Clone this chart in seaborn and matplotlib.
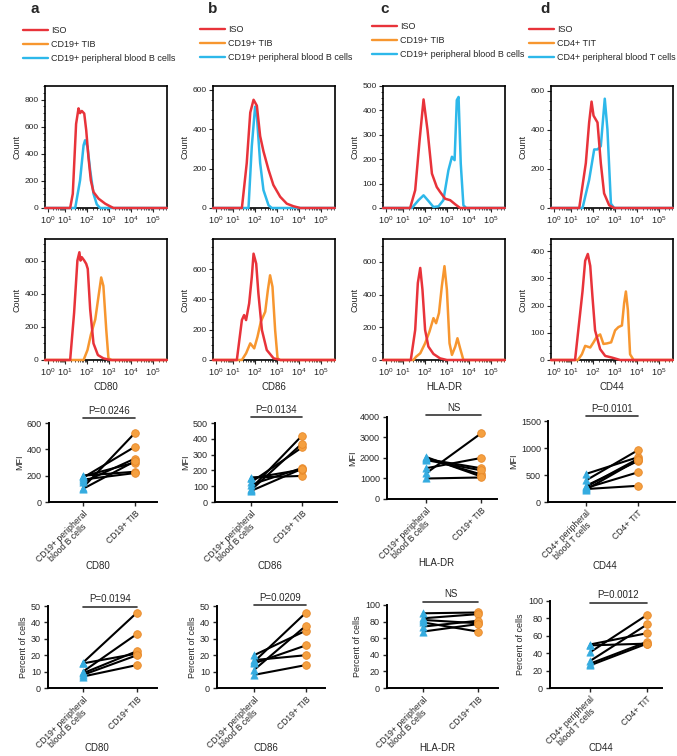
import numpy as np
import pandas as pd
import matplotlib
matplotlib.use("Agg")
import matplotlib.pyplot as plt
from matplotlib.lines import Line2D
from matplotlib.ticker import FixedLocator, AutoMinorLocator
import seaborn as sns

# --- histogram traces: (log10 intensity, count) ---
cd80_iso_1 = [(-0.19, 0), (1.25, 0), (1.37, 105), (1.52, 620), (1.63, 735), (1.70, 700), (1.78, 716),
              (1.89, 697), (1.98, 574), (2.08, 377), (2.19, 204), (2.31, 118), (2.54, 69), (2.84, 32),
              (3.07, 12), (3.22, 0), (5.64, 0)]
cd80_pb = [(-0.19, 0), (1.48, 0), (1.70, 204), (1.86, 463), (1.93, 500), (2.04, 450), (2.16, 278),
           (2.31, 106), (2.46, 27), (2.61, 0), (5.64, 0)]
cd86_iso_1 = [(-0.19, 0), (1.42, 0), (1.64, 228), (1.80, 485), (1.95, 550), (2.10, 520), (2.25, 365),
              (2.40, 288), (2.63, 194), (2.85, 117), (3.16, 57), (3.46, 22), (3.76, 9), (4.07, 0), (5.64, 0)]
cd86_pb = [(-0.19, 0), (1.72, 0), (1.87, 314), (2.02, 515), (2.10, 468), (2.25, 228), (2.40, 91),
           (2.63, 14), (2.78, 0), (5.64, 0)]
hla_iso_1 = [(-0.19, 0), (1.34, 0), (1.57, 73), (1.77, 278), (1.95, 445), (2.13, 319), (2.33, 141),
             (2.55, 86), (2.70, 66), (2.93, 38), (3.16, 32), (3.39, 15), (3.61, 0), (5.64, 0)]
hla_pb = [(-0.19, 0), (1.42, 0), (1.72, 32), (1.95, 52), (2.17, 29), (2.40, 4), (2.63, 7), (2.85, 32),
          (3.08, 155), (3.24, 210), (3.36, 196), (3.46, 442), (3.54, 455), (3.64, 182), (3.76, 11),
          (3.89, 0), (5.64, 0)]
cd44_iso_1 = [(-0.19, 0), (1.39, 0), (1.69, 230), (1.84, 438), (1.95, 545), (2.04, 473), (2.22, 438),
              (2.37, 230), (2.52, 75), (2.75, 14), (2.98, 0), (5.64, 0)]
cd44_pb = [(-0.19, 0), (1.54, 0), (1.84, 144), (2.07, 300), (2.22, 300), (2.37, 317), (2.55, 560),
           (2.67, 404), (2.83, 22), (2.98, 0), (5.64, 0)]

cd80_iso_2 = [(-0.19, 0), (1.25, 0), (1.43, 285), (1.58, 600), (1.67, 650), (1.72, 600), (1.78, 620),
              (1.89, 600), (1.98, 580), (2.05, 550), (2.16, 305), (2.31, 100), (2.51, 30), (2.76, 10),
              (3.07, 0), (5.64, 0)]
cd80_tum = [(-0.19, 0), (1.86, 0), (2.04, 61), (2.19, 152), (2.39, 244), (2.54, 386), (2.66, 498),
            (2.76, 447), (2.89, 183), (2.99, 10), (3.14, 0), (5.64, 0)]
cd86_iso_2 = [(-0.19, 0), (1.19, 0), (1.42, 264), (1.52, 297), (1.61, 264), (1.75, 374), (1.87, 549),
              (1.95, 703), (2.07, 637), (2.17, 440), (2.33, 198), (2.55, 66), (2.86, 11), (3.16, 0), (5.64, 0)]
cd86_tum = [(-0.19, 0), (1.42, 0), (1.61, 44), (1.80, 110), (1.98, 77), (2.13, 154), (2.28, 253),
            (2.48, 319), (2.60, 462), (2.70, 560), (2.81, 484), (2.93, 198), (3.04, 11), (3.16, 0), (5.64, 0)]
hla_iso_2 = [(-0.19, 0), (1.37, 0), (1.57, 184), (1.69, 471), (1.80, 563), (1.90, 430), (2.02, 184),
             (2.17, 82), (2.40, 37), (2.70, 10), (3.01, 0), (5.64, 0)]
hla_tum = [(-0.19, 0), (1.49, 0), (1.61, 20), (1.80, 41), (2.02, 102), (2.22, 174), (2.40, 256),
           (2.52, 225), (2.65, 287), (2.78, 451), (2.90, 574), (3.01, 430), (3.13, 102), (3.24, 31),
           (3.39, 82), (3.49, 133), (3.61, 72), (3.76, 0), (5.64, 0)]
cd44_iso_2 = [(-0.19, 0), (1.20, 0), (1.43, 171), (1.54, 253), (1.66, 365), (1.78, 390), (1.89, 346),
              (1.99, 234), (2.11, 109), (2.34, 40), (2.57, 15), (2.87, 9), (3.25, 0), (5.64, 0)]
cd44_tum = [(-0.19, 0), (1.33, 0), (1.51, 21), (1.66, 52), (1.89, 46), (2.04, 65), (2.19, 86),
            (2.34, 94), (2.49, 59), (2.65, 61), (2.84, 65), (3.02, 109), (3.17, 121), (3.33, 127),
            (3.43, 209), (3.51, 252), (3.60, 184), (3.70, 21), (3.86, 0), (5.64, 0)]

# --- paired values per donor ---
cd80_mfi_pb = [200, 195, 185, 170, 150, 110, 100]
cd80_mfi_tib = [230, 300, 420, 220, 330, 525, 310]
cd86_mfi_pb = [155, 150, 125, 110, 85, 75, 70]
cd86_mfi_tib = [165, 205, 345, 215, 420, 370, 210]
hla_mfi_pb = [2050, 2000, 1950, 1900, 1500, 1250, 1000]
hla_mfi_tib = [1100, 1200, 1500, 1400, 2000, 3200, 1050]
cd44_mfi_pb = [520, 400, 300, 280, 260, 240, 230]
cd44_mfi_tit = [830, 960, 760, 800, 550, 300, 780]

cd80_pct_pb = [15.5, 15, 10, 9, 8, 7]
cd80_pct_tib = [46, 21, 33, 22.5, 20, 14]
cd86_pct_pb = [20, 17, 16, 15, 11, 8]
cd86_pct_tib = [35, 20, 46, 26, 38, 14]
hla_pct_pb = [90, 84, 82, 79, 74, 68]
hla_pct_tib = [91, 89, 78, 68, 81, 77]
cd44_pct_pb = [50, 49, 41, 31, 28, 26]
cd44_pct_tit = [63, 51, 84, 73, 53, 51]

markers = ["CD80", "CD86", "HLA-DR", "CD44"]
mfi_p = ["P=0.0246", "P=0.0134", "NS", "P=0.0101"]
pct_p = ["P=0.0194", "P=0.0209", "NS", "P=0.0012"]
b_groups = ["CD19+ peripheral\nblood B cells", "CD19+ TIB"]
t_groups = ["CD4+ peripheral\nblood T cells", "CD4+ TIT"]
b_legend = ["ISO", "CD19+ TIB", "CD19+ peripheral blood B cells"]
t_legend = ["ISO", "CD4+ TIT", "CD4+ peripheral blood T cells"]

RED, ORANGE, BLUE = "#E8333A", "#F7962F", "#2DB8EA"
DOT_BLUE, DOT_ORANGE = "#35ACE0", "#F5A040"

sns.set_theme(style="ticks")
plt.rcParams["font.family"] = ["Liberation Sans", "DejaVu Sans"]
plt.rcParams["mathtext.fontset"] = "custom"
plt.rcParams["mathtext.rm"] = "Liberation Sans"
plt.rcParams["mathtext.it"] = "Liberation Sans:italic"
plt.rcParams["mathtext.bf"] = "Liberation Sans:bold"

W, H = 677, 756
fig = plt.figure(figsize=(W / 100, H / 100), dpi=100)


def px_axes(l, t, r, b):
    return fig.add_axes([l / W, 1 - b / H, (r - l) / W, (b - t) / H])


# flow cytometry display: first decade is squeezed
def fwd(x):
    x = np.asarray(x, float)
    return np.where(x < 1, 0.75 * x, x - 0.25)


def inv(u):
    u = np.asarray(u, float)
    return np.where(u < 0.75, u / 0.75, u + 0.25)


minor_x = [d + np.log10(k) for d in range(6) for k in range(2, 10) if d + np.log10(k) < 5.65]


def draw_hist(ax, traces, ymax, yticks, xlabel=None):
    for trace, color in traces:
        df = pd.DataFrame(trace, columns=["decade", "count"])
        sns.lineplot(data=df, x="decade", y="count", ax=ax, color=color, lw=1.8,
                     sort=False, estimator=None, clip_on=False, zorder=3)
    ax.set_xscale("function", functions=(fwd, inv))
    ax.set_xlim(-0.19, 5.65)
    ax.set_ylim(0, ymax)
    ax.set_xticks(range(6))
    ax.set_xticklabels([f"$10^{{{d}}}$" for d in range(6)], fontsize=6.5)
    ax.xaxis.set_minor_locator(FixedLocator(minor_x))
    ax.set_yticks(yticks)
    ax.set_yticklabels([str(v) for v in yticks], fontsize=6)
    ax.yaxis.set_minor_locator(AutoMinorLocator(4))
    ax.tick_params(which="major", length=3, width=0.8, pad=1.5)
    ax.tick_params(which="minor", length=1.5, width=0.6)
    for s in ax.spines.values():
        s.set_linewidth(1.2)
        s.set_color("black")
    ax.set_ylabel("Count", fontsize=6.5, labelpad=2)
    ax.set_xlabel(xlabel if xlabel else "", fontsize=7, labelpad=3)


def draw_pairs(ax, pb, tum, yticks, ylabel, ptext, bar_y, groups, xlabel, cat_px, box_px, lab_off):
    n = len(pb)
    df = pd.DataFrame({"donor": list(range(n)) * 2, "pos": [0] * n + [1] * n,
                       "value": list(pb) + list(tum)})
    sns.lineplot(data=df, x="pos", y="value", units="donor", estimator=None,
                 color="black", lw=1.5, ax=ax, zorder=2)
    sns.scatterplot(x=[0] * n, y=pb, marker="^", color=DOT_BLUE, edgecolor=DOT_BLUE,
                    s=28, ax=ax, zorder=3, clip_on=False)
    sns.scatterplot(x=[1] * n, y=tum, marker="o", color=DOT_ORANGE, edgecolor="#E8892A",
                    s=30, linewidth=0.6, ax=ax, zorder=3, clip_on=False)
    l, r = box_px
    b0, b1 = cat_px
    unit = b1 - b0
    ax.set_xlim((l - b0) / unit, (r - b0) / unit)
    ax.set_ylim(0, yticks[-1])
    ax.set_yticks(yticks)
    ax.set_yticklabels([str(v) for v in yticks], fontsize=6.5)
    ax.set_xticks([0, 1])
    ax.set_xticklabels(groups, rotation=45, ha="right", rotation_mode="anchor", fontsize=6.2)
    for lbl in ax.get_xticklabels():
        lbl.set_multialignment("center")
        lbl.set_linespacing(0.95)
    ax.tick_params(length=3, width=1, pad=2)
    sns.despine(ax=ax)
    for s in ("left", "bottom"):
        ax.spines[s].set_linewidth(1.4)
        ax.spines[s].set_color("black")
    ax.set_ylabel(ylabel, fontsize=6.5, labelpad=2)
    ax.set_xlabel("")
    tr = ax.get_xaxis_transform()
    ax.plot([0, 1], [bar_y, bar_y], color="#333333", lw=1.2, transform=tr, clip_on=False)
    ax.text(0.5, bar_y + 0.03, ptext, transform=tr, ha="center", va="bottom", fontsize=7)
    ax.annotate(xlabel, xy=(0.45, 0), xycoords="axes fraction", xytext=(0, lab_off),
                textcoords="offset points", ha="center", va="center", fontsize=7)


# panel letters and legends
for letter, x in zip("abcd", [35, 213, 385, 545]):
    fig.text(x / W, 1 - 9 / H, letter, fontsize=11, fontweight="bold", ha="center", va="center")

for labels, (lx, ly) in zip([b_legend, b_legend, b_legend, t_legend],
                            [(23, 26), (200, 25), (372, 22), (529, 25)]):
    handles = [Line2D([0], [0], color=c, lw=1.7) for c in (RED, ORANGE, BLUE)]
    fig.legend(handles, labels, loc="upper left", bbox_to_anchor=(lx / W, 1 - ly / H),
               frameon=False, fontsize=6.5, handlelength=2.8, handletextpad=0.3,
               labelspacing=0.55, borderaxespad=0, borderpad=0)

# histograms
lefts = [45, 213, 383, 551]
top_traces = [[(cd80_pb, BLUE), (cd80_iso_1, RED)], [(cd86_pb, BLUE), (cd86_iso_1, RED)],
              [(hla_pb, BLUE), (hla_iso_1, RED)], [(cd44_pb, BLUE), (cd44_iso_1, RED)]]
bot_traces = [[(cd80_tum, ORANGE), (cd80_iso_2, RED)], [(cd86_tum, ORANGE), (cd86_iso_2, RED)],
              [(hla_tum, ORANGE), (hla_iso_2, RED)], [(cd44_tum, ORANGE), (cd44_iso_2, RED)]]
top_lim = [(900, [0, 200, 400, 600, 800]), (620, [0, 200, 400, 600]),
           (500, [0, 100, 200, 300, 400, 500]), (625, [0, 200, 400, 600])]
bot_lim = [(730, [0, 200, 400, 600]), (800, [0, 200, 400, 600]),
           (740, [0, 200, 400, 600]), (445, [0, 100, 200, 300, 400])]

for i in range(4):
    ax = px_axes(lefts[i], 86, lefts[i] + 122, 208)
    draw_hist(ax, top_traces[i], *top_lim[i])
    ax = px_axes(lefts[i], 239, lefts[i] + 122, 360)
    draw_hist(ax, bot_traces[i], *bot_lim[i], xlabel=markers[i])

# paired dot plots
mfi_data = [(cd80_mfi_pb, cd80_mfi_tib), (cd86_mfi_pb, cd86_mfi_tib),
            (hla_mfi_pb, hla_mfi_tib), (cd44_mfi_pb, cd44_mfi_tit)]
pct_data = [(cd80_pct_pb, cd80_pct_tib), (cd86_pct_pb, cd86_pct_tib),
            (hla_pct_pb, hla_pct_tib), (cd44_pct_pb, cd44_pct_tit)]
mfi_ticks = [[0, 200, 400, 600], [0, 100, 200, 300, 400, 500],
             [0, 1000, 2000, 3000, 4000], [0, 500, 1000, 1500]]
pct_ticks = [[0, 10, 20, 30, 40, 50], [0, 10, 20, 30, 40, 50],
             [0, 20, 40, 60, 80, 100], [0, 20, 40, 60, 80, 100]]
mfi_boxes = [(49, 423, 157, 502), (215, 423, 337, 502), (387, 417, 497, 499), (548, 421, 675, 502)]
pct_boxes = [(48, 606, 157, 688), (217, 606, 325, 688), (387, 605, 498, 688), (550, 601, 662, 688)]
mfi_cats = [(83, 135), (251, 302), (426, 481), (586, 638)]
pct_cats = [(83, 137), (254, 306), (423, 478), (590, 647)]
mfi_bar = [1.063, 1.076, 1.02, 1.06]
pct_bar = [0.99, 1.01, 1.04, 0.98]

for i in range(4):
    groups = t_groups if i == 3 else b_groups
    l, t, r, b = mfi_boxes[i]
    ax = px_axes(l, t, r, b)
    draw_pairs(ax, *mfi_data[i], mfi_ticks[i], "MFI", mfi_p[i], mfi_bar[i], groups,
               markers[i], mfi_cats[i], (l, r), -46)
    l, t, r, b = pct_boxes[i]
    ax = px_axes(l, t, r, b)
    draw_pairs(ax, *pct_data[i], pct_ticks[i], "Percent of cells", pct_p[i], pct_bar[i], groups,
               markers[i], pct_cats[i], (l, r), -43.5)

fig.savefig("out.png", dpi=100)
